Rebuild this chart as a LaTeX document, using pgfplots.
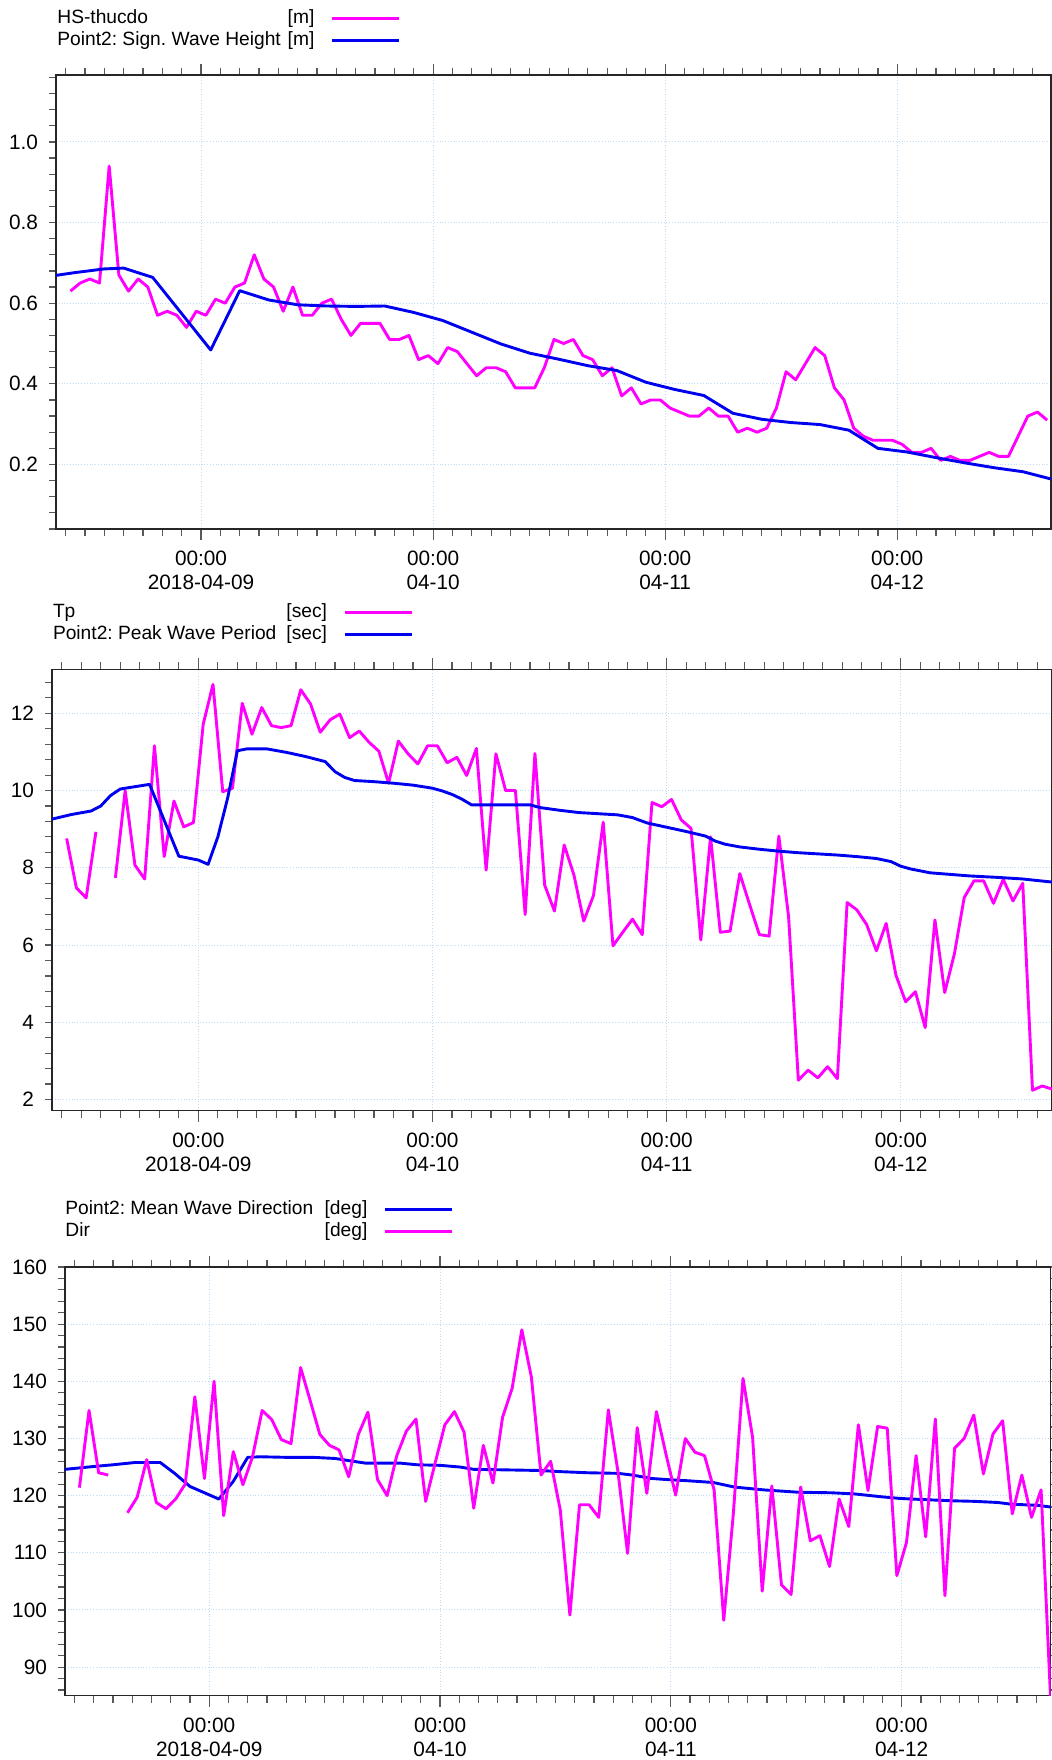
\documentclass[border=0pt]{standalone}
\usepackage{fontspec}
\setmainfont{Liberation Sans}
\usepackage{pgfplots}
\pgfplotsset{compat=1.18}
\definecolor{mag}{RGB}{255,0,255}
\definecolor{blu}{RGB}{0,0,240}
\definecolor{gridc}{RGB}{190,220,250}
\frenchspacing

\pgfplotsset{
  myaxis/.style={
    scale only axis, anchor=south west,
    xmin=-15,
    axis line style={line width=0.7pt, black!85},
    tick align=outside,
    tick style={black!65, line width=0.6pt},
    major tick length=5.5pt, minor tick length=3.5pt,
    xtick={0,24,48,72},
    xticklabels={{00:00\\2018-04-09},{00:00\\04-10},{00:00\\04-11},{00:00\\04-12}},
    minor xtick={-14,-12,...,86},
    xticklabel style={align=center, font=\fontsize{10.4}{12}\selectfont, yshift=-2pt},
    yticklabel style={font=\fontsize{10.4}{12}\selectfont},
    /pgf/number format/assume math mode=true,
    grid=major,
    major grid style={densely dotted, gridc, line width=0.5pt},
    major y tick style={draw=none},
    unbounded coords=jump,
    legend plot pos=right,
    legend cell align=left,
    legend style={draw=none, fill=none, at={(0,1)}, anchor=south west, inner sep=0pt,
      font=\fontsize{9.6}{12}\selectfont\frenchspacing,
      nodes={inner sep=0pt, text height=7.5pt, text depth=2.5pt},
      row sep=1pt, column sep=8pt},
    legend image code/.code={\draw[##1, line width=1.5pt] (0pt,0pt) -- (33.5pt,0pt);},
    every axis plot/.append style={line width=1.45pt, line join=round},
  }
}

\begin{document}
\begin{tikzpicture}
%================ Panel 1 ================
\begin{axis}[myaxis,
  at={(28pt,615.5pt)}, width=497.5pt, height=227pt,
  xmax=87.9, ymin=0.04, ymax=1.166,
  ytick={0.2,0.4,0.6,0.8,1.0},
  minor ytick={0.04,0.08,...,1.17},
  yticklabel style={/pgf/number format/.cd, fixed, fixed zerofill, precision=1},
  legend style={xshift=0.5pt, yshift=11.9pt},
]
\addplot[mag] coordinates {
(-13.5,0.63) (-12.5,0.65) (-11.5,0.66) (-10.5,0.65) (-9.5,0.94) (-8.5,0.67) (-7.5,0.63) (-6.5,0.66)
(-5.5,0.64) (-4.5,0.57) (-3.5,0.58) (-2.5,0.57) (-1.5,0.54) (-0.5,0.58) (0.5,0.57) (1.5,0.61)
(2.5,0.60) (3.5,0.64) (4.5,0.65) (5.5,0.72) (6.5,0.66) (7.5,0.64) (8.5,0.58) (9.5,0.64)
(10.5,0.57) (11.5,0.57) (12.5,0.60) (13.5,0.61) (14.5,0.56) (15.5,0.52) (16.5,0.55) (17.5,0.55)
(18.5,0.55) (19.5,0.51) (20.5,0.51) (21.5,0.52) (22.5,0.46) (23.5,0.47) (24.5,0.45) (25.5,0.49)
(26.5,0.48) (27.5,0.45) (28.5,0.42) (29.5,0.44) (30.5,0.44) (31.5,0.43) (32.5,0.39) (33.5,0.39)
(34.5,0.39) (35.5,0.44) (36.5,0.51) (37.5,0.50) (38.5,0.51) (39.5,0.47) (40.5,0.46) (41.5,0.42)
(42.5,0.44) (43.5,0.37) (44.5,0.39) (45.5,0.35) (46.5,0.36) (47.5,0.36) (48.5,0.34) (49.5,0.33)
(50.5,0.32) (51.5,0.32) (52.5,0.34) (53.5,0.32) (54.5,0.32) (55.5,0.28) (56.5,0.29) (57.5,0.28)
(58.5,0.29) (59.5,0.34) (60.5,0.43) (61.5,0.41) (62.5,0.45) (63.5,0.49) (64.5,0.47) (65.5,0.39)
(66.5,0.36) (67.5,0.29) (68.5,0.27) (69.5,0.26) (70.5,0.26) (71.5,0.26) (72.5,0.25) (73.5,0.23)
(74.5,0.23) (75.5,0.24) (76.5,0.21) (77.5,0.22) (78.5,0.21) (79.5,0.21) (80.5,0.22) (81.5,0.23)
(82.5,0.22) (83.5,0.22) (84.5,0.27) (85.5,0.32) (86.5,0.33) (87.5,0.31)
};
\addlegendentry{\makebox[128.5pt][l]{HS-thucdo\hfill[m]}}
\addplot[blu] coordinates {
(-15,0.669) (-13,0.676) (-10,0.685) (-8,0.687) (-5,0.664) (1,0.484) (4,0.631) (7,0.608)
(10,0.596) (13,0.593) (16,0.592) (19,0.593) (22,0.577) (25,0.557) (28,0.528) (31,0.499)
(34,0.476) (37,0.461) (40,0.445) (43,0.433) (46,0.404) (49,0.386) (52,0.371) (55,0.327)
(58,0.312) (61,0.304) (64,0.299) (67,0.285) (70,0.240) (73,0.231) (76,0.217) (79,0.204)
(82,0.192) (85,0.182) (87.9,0.164)
};
\addlegendentry{\makebox[128.5pt][l]{Point2: Sign. Wave Height\hfill[m]}}
\end{axis}

%================ Panel 2 ================
\begin{axis}[myaxis,
  at={(26pt,324.65pt)}, width=500pt, height=220.7pt,
  xmax=87.5, ymin=1.71, ymax=13.14,
  ytick={2,4,6,8,10,12},
  minor ytick={2,2.4,...,13.1},
  legend style={xshift=0.3pt, yshift=12pt},
]
\addplot[mag] coordinates {
(-13.5,8.76) (-12.5,7.48) (-11.5,7.22) (-10.5,8.93) (-9.5,nan) (-8.5,7.74) (-7.5,10.0) (-6.5,8.07)
(-5.5,7.71) (-4.5,11.16) (-3.5,8.29) (-2.5,9.73) (-1.5,9.06) (-0.5,9.17) (0.5,11.72) (1.5,12.75)
(2.5,9.97) (3.5,10.06) (4.5,12.26) (5.5,11.46) (6.5,12.15) (7.5,11.68) (8.5,11.63) (9.5,11.68)
(10.5,12.61) (11.5,12.24) (12.5,11.51) (13.5,11.83) (14.5,11.98) (15.5,11.37) (16.5,11.54) (17.5,11.25)
(18.5,11.02) (19.5,10.19) (20.5,11.28) (21.5,10.95) (22.5,10.69) (23.5,11.16) (24.5,11.16) (25.5,10.72)
(26.5,10.86) (27.5,10.39) (28.5,11.09) (29.5,7.94) (30.5,10.95) (31.5,10.0) (32.5,10.0) (33.5,6.79)
(34.5,10.96) (35.5,7.55) (36.5,6.88) (37.5,8.59) (38.5,7.81) (39.5,6.62) (40.5,7.28) (41.5,9.18)
(42.5,5.98) (43.5,6.33) (44.5,6.67) (45.5,6.27) (46.5,9.69) (47.5,9.58) (48.5,9.77) (49.5,9.24)
(50.5,9.02) (51.5,6.13) (52.5,8.80) (53.5,6.33) (54.5,6.36) (55.5,7.85) (56.5,7.05) (57.5,6.27)
(58.5,6.23) (59.5,8.82) (60.5,6.73) (61.5,2.50) (62.5,2.76) (63.5,2.56) (64.5,2.85) (65.5,2.54)
(66.5,7.10) (67.5,6.91) (68.5,6.53) (69.5,5.85) (70.5,6.56) (71.5,5.22) (72.5,4.53) (73.5,4.79)
(74.5,3.86) (75.5,6.65) (76.5,4.77) (77.5,5.78) (78.5,7.23) (79.5,7.66) (80.5,7.66) (81.5,7.08)
(82.5,7.70) (83.5,7.14) (84.5,7.60) (85.5,2.24) (86.5,2.35) (87.5,2.27)
};
\addlegendentry{\makebox[137pt][l]{Tp\hfill[sec]}}
\addplot[blu] coordinates {
(-15,9.26) (-13,9.38) (-11,9.47) (-10,9.60) (-9,9.87) (-8,10.04) (-5,10.16) (-2,8.30)
(0,8.20) (1,8.09) (2,8.80) (3,9.80) (4,11.03) (5,11.08) (7,11.08) (9,10.99)
(11,10.88) (13,10.75) (14,10.49) (15,10.34) (16,10.26) (18,10.23) (20,10.19) (22,10.14)
(24,10.06) (25,9.99) (26,9.90) (27,9.78) (28,9.63) (34,9.63) (35,9.56) (37,9.49)
(39,9.43) (41,9.40) (43,9.37) (44.5,9.30) (46,9.16) (48,9.05) (50,8.94) (52,8.82)
(53,8.69) (54,8.61) (55.5,8.54) (57.5,8.48) (59.5,8.43) (61.5,8.39) (63.5,8.36) (65.5,8.33)
(67.5,8.29) (69.5,8.24) (71,8.16) (72,8.04) (73,7.97) (75,7.87) (77,7.83) (79,7.79)
(82,7.75) (84.5,7.71) (87.5,7.63)
};
\addlegendentry{\makebox[137pt][l]{Point2: Peak Wave Period\hfill[sec]}}
\end{axis}

%================ Panel 3 ================
\begin{axis}[myaxis,
  at={(32.5pt,32.15pt)}, width=492.85pt, height=214.35pt,
  xmax=87.5, ymin=85, ymax=160,
  ytick={90,100,...,160},
  minor ytick={86,88,...,160},
  legend style={yshift=12.4pt},
]
\addplot[blu] coordinates {
(-15,124.6) (-12,125.1) (-10,125.4) (-7.7,125.8) (-5.1,125.8) (-3.6,123.9) (-2,121.6) (1,119.4)
(2.5,122.5) (4,126.7) (5.3,126.8) (8,126.7) (10.8,126.7) (13.1,126.5) (14.6,126.1) (16.2,125.7)
(19.8,125.7) (21.6,125.4) (24,125.3) (26.1,125.0) (27.5,124.6) (31,124.5) (34.4,124.4) (36.5,124.2)
(39.4,124.0) (42.5,123.9) (44,123.6) (46,123.0) (47.7,122.8) (49.8,122.6) (52.4,122.3) (54.6,121.5)
(57.7,121.0) (61.2,120.6) (64.7,120.5) (67.1,120.3) (69.9,119.8) (71.9,119.5) (74.4,119.3) (77.2,119.1)
(79.6,119.0) (82,118.8) (83.4,118.5) (86.2,118.3) (87.5,118.0)
};
\addlegendentry{\makebox[151pt][l]{Point2: Mean Wave Direction\hfill[deg]}}
\addplot[mag] coordinates {
(-13.5,121.4) (-12.5,134.9) (-11.5,124.0) (-10.5,123.6) (-9.5,nan) (-8.5,117.0) (-7.5,119.7) (-6.5,126.3)
(-5.5,118.8) (-4.5,117.7) (-3.5,119.4) (-2.5,122.0) (-1.5,137.3) (-0.5,123.0) (0.5,140.0) (1.5,116.5)
(2.5,127.7) (3.5,121.9) (4.5,126.8) (5.5,134.9) (6.5,133.3) (7.5,129.8) (8.5,129.1) (9.5,142.4)
(10.5,136.6) (11.5,130.7) (12.5,128.8) (13.5,128.0) (14.5,123.3) (15.5,130.7) (16.5,134.6) (17.5,122.8)
(18.5,120.0) (19.5,127.0) (20.5,131.3) (21.5,133.4) (22.5,119.0) (23.5,125.8) (24.5,132.4) (25.5,134.7)
(26.5,131.1) (27.5,117.8) (28.5,128.8) (29.5,122.2) (30.5,133.7) (31.5,138.8) (32.5,149.0) (33.5,140.7)
(34.5,123.6) (35.5,126.0) (36.5,117.5) (37.5,99.1) (38.5,118.4) (39.5,118.4) (40.5,116.2) (41.5,135.0)
(42.5,124.2) (43.5,109.9) (44.5,131.9) (45.5,120.4) (46.5,134.7) (47.5,127.2) (48.5,120.1) (49.5,130.0)
(50.5,127.6) (51.5,127.0) (52.5,121.0) (53.5,98.2) (54.5,116.9) (55.5,140.5) (56.5,130.2) (57.5,103.3)
(58.5,121.7) (59.5,104.4) (60.5,102.7) (61.5,121.5) (62.5,112.1) (63.5,113.0) (64.5,107.6) (65.5,119.4)
(66.5,114.6) (67.5,132.4) (68.5,120.9) (69.5,132.1) (70.5,131.8) (71.5,106.0) (72.5,111.8) (73.5,127.0)
(74.5,112.8) (75.5,133.4) (76.5,102.5) (77.5,128.3) (78.5,130.0) (79.5,134.1) (80.5,123.8) (81.5,130.8)
(82.5,133.1) (83.5,116.8) (84.5,123.6) (85.5,116.2) (86.5,121.0) (87.5,84.0)
};
\addlegendentry{\makebox[151pt][l]{Dir\hfill[deg]}}
\end{axis}

\pgfresetboundingbox
\path[use as bounding box] (0pt,0pt) rectangle (526pt,880pt);
\end{tikzpicture}
\end{document}
